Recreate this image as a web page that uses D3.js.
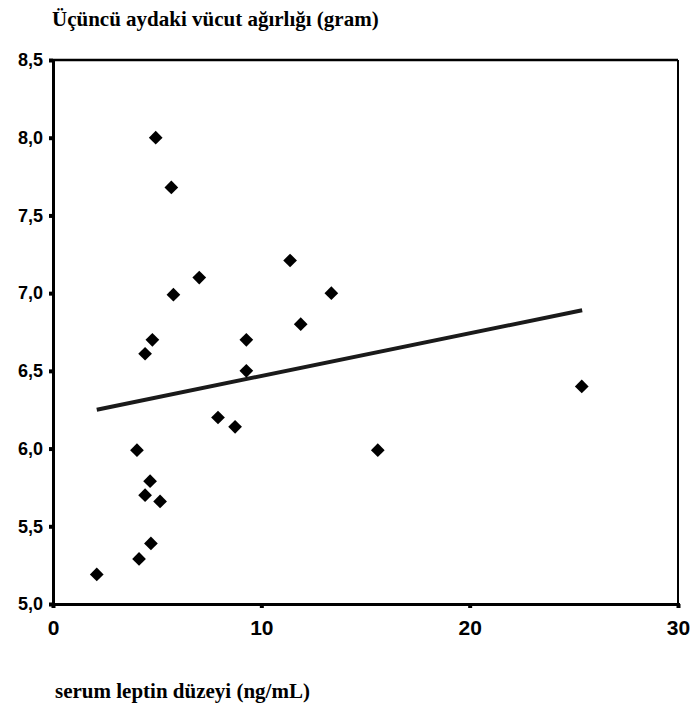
<!DOCTYPE html>
<html><head><meta charset="utf-8">
<script src="https://cdn.jsdelivr.net/npm/d3@7"></script>
<style>body{margin:0;background:#fff}</style>
</head><body>
<script>
const leptin = [2.1, 4.93, 5.68, 7.02, 5.78, 4.77, 4.42, 11.38, 13.36, 11.89, 9.28, 9.28, 7.92, 8.74, 4.03, 15.59, 25.38, 4.66, 4.42, 5.14, 4.7, 4.13];
const weight = [5.19, 8.0, 7.68, 7.10, 6.99, 6.70, 6.61, 7.21, 7.0, 6.80, 6.70, 6.50, 6.20, 6.14, 5.99, 5.99, 6.40, 5.79, 5.70, 5.66, 5.39, 5.29];
const trendX = [2.1, 25.4];
const trendY = [6.25, 6.89];
const xTicks = [0, 10, 20, 30];
const yTicks = [5.0, 5.5, 6.0, 6.5, 7.0, 7.5, 8.0, 8.5];
const yTitle = "Üçüncü aydaki vücut ağırlığı (gram)";
const xTitle = "serum leptin düzeyi (ng/mL)";

const W = 693, H = 714;
const m = {left: 53, right: 678, top: 60, bottom: 604};
const svg = d3.select("body").append("svg").attr("width", W).attr("height", H);
const x = d3.scaleLinear().domain([0, 30]).range([m.left, m.right]);
const y = d3.scaleLinear().domain([5, 8.5]).range([m.bottom, m.top]);
const fmt = d => d3.format(".1f")(d).replace(".", ",");

// frame
svg.append("line").attr("x1", m.left).attr("x2", m.right).attr("y1", m.top).attr("y2", m.top).attr("stroke", "#000").attr("stroke-width", 2.5);
svg.append("line").attr("x1", m.right).attr("x2", m.right).attr("y1", m.top).attr("y2", m.bottom).attr("stroke", "#000").attr("stroke-width", 2);

const yAxis = svg.append("g").attr("transform", `translate(${m.left},0)`)
  .call(d3.axisLeft(y).tickValues(yTicks).tickFormat(fmt).tickSize(4).tickPadding(6));
const xAxis = svg.append("g").attr("transform", `translate(0,${m.bottom})`)
  .call(d3.axisBottom(x).tickValues(xTicks).tickFormat(d3.format("d")).tickSize(4).tickPadding(12));
[yAxis, xAxis].forEach(g => {
  g.select(".domain").attr("stroke", "#000").attr("stroke-width", 3);
  g.selectAll(".tick line").attr("stroke", "#000").attr("stroke-width", 4);
  g.selectAll(".tick text").attr("fill", "#000").style("font-family", "Liberation Sans, Arial, sans-serif")
    .style("font-weight", "bold");
});
yAxis.selectAll(".tick text").style("font-size", "18px");
xAxis.selectAll(".tick text").style("font-size", "21px");

// trend line
svg.append("line").attr("x1", x(trendX[0])).attr("y1", y(trendY[0])).attr("x2", x(trendX[1])).attr("y2", y(trendY[1]))
  .attr("stroke", "#1a1a1a").attr("stroke-width", 4);

// points
const pts = leptin.map((v, i) => [v, weight[i]]);
svg.append("g").selectAll("path").data(pts).join("path")
  .attr("transform", d => `translate(${x(d[0])},${y(d[1])})`)
  .attr("d", d3.symbol().type(d3.symbolDiamond2).size(120))
  .attr("fill", "#000");

svg.append("text").attr("x", 52).attr("y", 26).text(yTitle)
  .style("font-family", "Liberation Serif, Times New Roman, serif").style("font-weight", "bold").style("font-size", "21px");
svg.append("text").attr("x", 55).attr("y", 698).text(xTitle)
  .style("font-family", "Liberation Serif, Times New Roman, serif").style("font-weight", "bold").style("font-size", "21px");
</script>
</body></html>
